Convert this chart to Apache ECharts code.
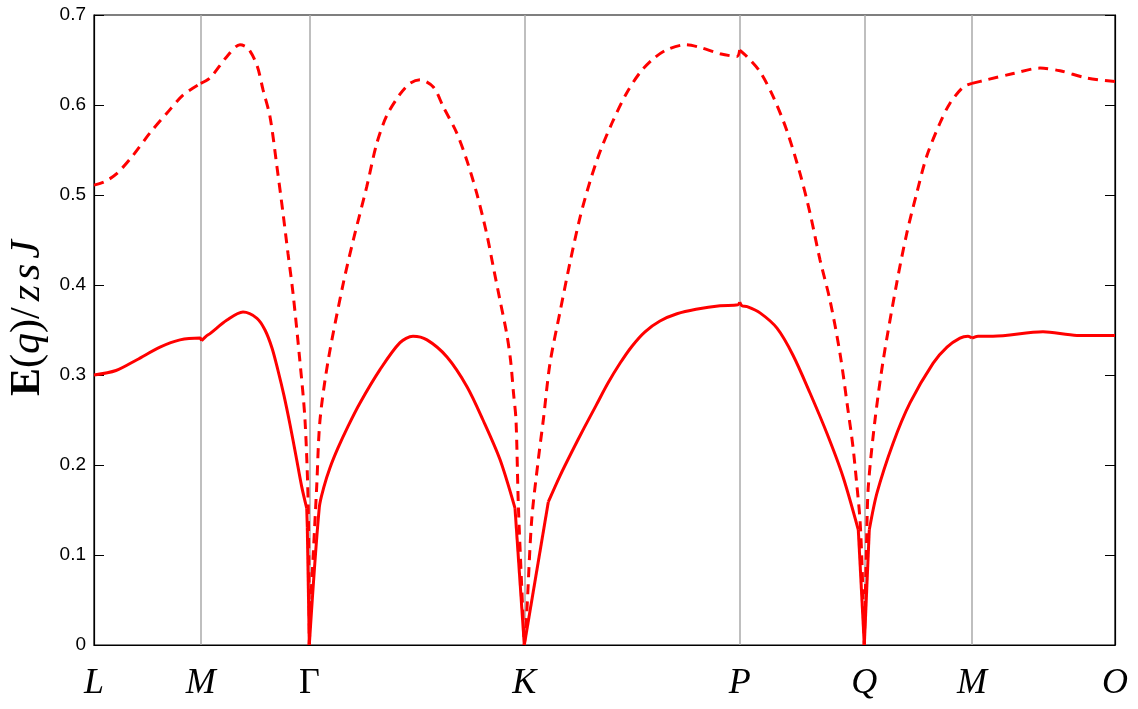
<!DOCTYPE html>
<html lang="en">
<head>
  <meta charset="UTF-8">
  <title>E(q)/zsJ dispersion</title>
  <script src="https://cdn.jsdelivr.net/npm/echarts@6/dist/echarts.min.js"></script>
  <style>
    html, body { margin: 0; padding: 0; background: #fff; }
    #chart { width: 1138px; height: 709px; }
  </style>
</head>
<body>
  <div id="chart"></div>
  <script type="text/javascript">
    // high symmetry points along the path
    var symPos = [0, 106.7, 215.3, 430.3, 645.7, 770.3, 878, 1021];
    var symLabels = ['L', 'M', 'Γ', 'K', 'P', 'Q', 'M', 'O'];

    // lower branch (solid)
    var kLower = [0, 22, 43, 66, 86, 106, 107.5, 112, 116, 133, 149, 163, 171, 178, 184, 190, 196, 202, 207.7, 212.7, 213.3, 215.3,
      225.3, 230, 236, 244, 254, 266, 286, 306, 319, 333, 353, 373, 389, 406, 421, 430.3,
      454.3, 466, 478, 490, 502, 514, 526, 538, 551, 566, 583, 602, 626, 644, 645.7, 648, 653, 666, 683, 699, 716, 733, 749, 764.3, 770.3,
      775.3, 783, 799, 816, 839, 853, 866, 874, 878, 884, 899, 949, 983, 1021];
    var eLower = [0.300, 0.305, 0.317, 0.331, 0.339, 0.341, 0.338, 0.343, 0.346, 0.361, 0.370, 0.363, 0.350, 0.330, 0.305, 0.277, 0.245, 0.210, 0.176, 0.152, 0.131, 0,
      0.153, 0.176, 0.197, 0.219, 0.243, 0.269, 0.306, 0.336, 0.343, 0.339, 0.320, 0.287, 0.250, 0.206, 0.152, 0,
      0.159, 0.188, 0.215, 0.241, 0.266, 0.291, 0.313, 0.332, 0.348, 0.360, 0.368, 0.373, 0.377, 0.378, 0.381, 0.377, 0.376, 0.369, 0.352, 0.322, 0.280, 0.235, 0.187, 0.128, 0,
      0.128, 0.169, 0.224, 0.269, 0.313, 0.331, 0.341, 0.343, 0.341, 0.343, 0.343, 0.348, 0.344, 0.344];
    // places where the lower branch has a kink
    var lowerKinks = [107.5, 212.7, 213.3, 215.3, 421, 430.3, 454.3, 645.7, 764.3, 770.3, 775.3, 878];

    // upper branch (dashed)
    var kUpper = [0, 11, 23, 39, 56, 73, 89, 106.7, 116, 133, 146, 154, 163, 169, 176, 183, 189, 194, 199, 205.5, 211, 214.3, 215.3,
      216.7, 219.3, 222.7, 226, 234.3, 249.3, 259.3, 272.7, 282.7, 292.7, 306, 316, 326, 339.3, 349.3, 362.7, 372.7, 382.7, 392.7, 399.3, 406, 412.7, 416.5, 419.5, 422, 424.3, 427.7, 430.3,
      432.7, 437.7, 444.3, 449.3, 456, 466, 476, 486, 496, 506, 518, 532, 546, 560, 574, 592, 606, 626, 643, 645.7, 652.7, 666, 679.3, 692.7, 706, 716, 726, 736, 746, 754, 759, 763, 766, 768, 770.3,
      772.7, 774.3, 781, 789.3, 802.7, 812.7, 822.7, 832.7, 846, 856, 869.3, 878, 892.7, 919.3, 946, 966, 992.7, 1021];
    var eUpper = [0.511, 0.515, 0.524, 0.544, 0.569, 0.591, 0.611, 0.624, 0.630, 0.654, 0.667, 0.663, 0.644, 0.617, 0.587, 0.531, 0.480, 0.435, 0.391, 0.320, 0.250, 0.150, 0,
      0.046, 0.102, 0.176, 0.250, 0.317, 0.402, 0.450, 0.509, 0.557, 0.588, 0.612, 0.624, 0.628, 0.620, 0.598, 0.569, 0.539, 0.502, 0.457, 0.420, 0.383, 0.346, 0.317, 0.280, 0.250, 0.157, 0.065, 0,
      0.035, 0.139, 0.206, 0.250, 0.313, 0.370, 0.425, 0.475, 0.515, 0.548, 0.580, 0.612, 0.636, 0.652, 0.662, 0.667, 0.664, 0.657, 0.654, 0.661, 0.654, 0.637, 0.609, 0.572, 0.524, 0.480, 0.428, 0.383, 0.324, 0.261, 0.220, 0.176, 0.139, 0.090, 0,
      0.120, 0.176, 0.250, 0.317, 0.402, 0.457, 0.502, 0.543, 0.580, 0.602, 0.620, 0.624, 0.628, 0.635, 0.641, 0.638, 0.630, 0.626];
    var upperKinks = [106.7, 215.3, 430.3, 645.7, 770.3, 878];

    // cut a branch into pieces at its kinks, the kink point goes into both pieces
    function splitAt(ks, es, cuts) {
      var segs = [], cur = [];
      for (var i = 0; i < ks.length; i++) {
        cur.push([ks[i], es[i]]);
        if (cuts.indexOf(ks[i]) >= 0 && i > 0 && i < ks.length - 1) {
          segs.push(cur);
          cur = [[ks[i], es[i]]];
        }
      }
      segs.push(cur);
      return segs;
    }

    var series = [];
    splitAt(kLower, eLower, lowerKinks).forEach(function (seg) {
      series.push({
        type: 'line', data: seg, showSymbol: false, smooth: 0.3,
        lineStyle: { color: '#ff0000', width: 3 }, z: 3
      });
    });
    splitAt(kUpper, eUpper, upperKinks).forEach(function (seg) {
      series.push({
        type: 'line', data: seg, showSymbol: false, smooth: 0.3,
        lineStyle: { color: '#ff0000', width: 3, type: [10, 7] }, z: 3
      });
    });
    // grey lines at the inner symmetry points
    series[0].markLine = {
      silent: true,
      symbol: 'none',
      label: { show: false },
      lineStyle: { color: '#aaaaaa', width: 1.5, type: 'solid' },
      data: symPos.slice(1, -1).map(function (p) { return { xAxis: p }; }),
      z: 1
    };

    var myChart = echarts.init(document.getElementById('chart'));
    var option = {
      animation: false,
      backgroundColor: '#fff',
      grid: {
        left: 94, right: 23, top: 15, bottom: 64,
        containLabel: false, outerBoundsMode: 'none',
        show: true, borderColor: '#000', borderWidth: 1.2
      },
      xAxis: {
        type: 'value',
        min: 0, max: symPos[symPos.length - 1],
        axisLine: { show: true, lineStyle: { color: '#000', width: 1.2 } },
        axisTick: { show: false },
        splitLine: { show: false },
        axisLabel: {
          customValues: symPos,
          margin: 21,
          formatter: function (v) {
            var idx = 0, best = Infinity;
            symPos.forEach(function (p, i) {
              if (Math.abs(p - v) < best) { best = Math.abs(p - v); idx = i; }
            });
            var t = symLabels[idx];
            return t === 'Γ' ? '{g|' + t + '}' : '{i|' + t + '}';
          },
          rich: {
            i: { fontFamily: 'Liberation Serif', fontStyle: 'italic', fontSize: 36, color: '#000' },
            g: { fontFamily: 'Liberation Serif', fontSize: 36, color: '#000' }
          }
        }
      },
      yAxis: [
        {
          type: 'value',
          min: 0, max: 0.7, interval: 0.1,
          name: '{b|E}{n|(}{i|q}{s|)/}{i|z}{t|s}{i|J}',
          nameLocation: 'middle',
          nameRotate: 90,
          nameGap: 44,
          nameTextStyle: {
            padding: [0, 0, 0, 24],
            rich: {
              b: { fontFamily: 'Liberation Serif', fontWeight: 'bold', fontSize: 42, color: '#000' },
              n: { fontFamily: 'Liberation Serif', fontSize: 42, color: '#000' },
              s: { fontFamily: 'Liberation Serif', fontSize: 42, color: '#000', padding: [0, 6, 0, 0] },
              t: { fontFamily: 'Liberation Serif', fontStyle: 'italic', fontSize: 42, color: '#000', padding: [0, 5, 0, 5] },
              i: { fontFamily: 'Liberation Serif', fontStyle: 'italic', fontSize: 42, color: '#000' }
            }
          },
          axisLine: { show: true, lineStyle: { color: '#000', width: 1.2 } },
          axisTick: { show: true, inside: true, length: 10, lineStyle: { color: '#000', width: 1 } },
          splitLine: { show: false },
          axisLabel: {
            fontFamily: 'Liberation Sans', fontSize: 19, color: '#000', margin: 8,
            formatter: function (v) { return String(+v.toFixed(1)); }
          }
        },
        {
          type: 'value',
          position: 'right',
          min: 0, max: 0.7, interval: 0.1,
          axisLine: { show: true, lineStyle: { color: '#000', width: 1.2 } },
          axisTick: { show: true, inside: true, length: 10, lineStyle: { color: '#000', width: 1 } },
          splitLine: { show: false },
          axisLabel: { show: false }
        }
      ],
      series: series
    };
    option && myChart.setOption(option);
  </script>
</body>
</html>
